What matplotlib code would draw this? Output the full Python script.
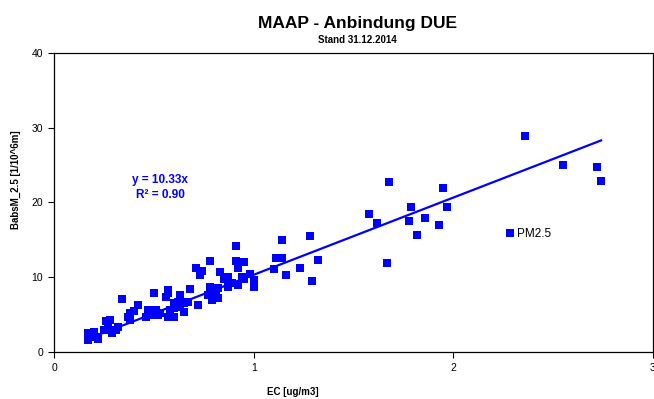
import matplotlib.pyplot as plt
import numpy as np

plt.rcParams["font.family"] = ["Liberation Sans", "DejaVu Sans"]

# ================= data =================
EC = [
    2.36, 2.55, 2.72, 2.74, 1.95, 1.97, 1.93, 1.86, 1.79, 1.78,
    1.82, 1.68, 1.58, 1.62, 1.67, 1.28, 1.32, 1.23, 1.29, 1.14,
    1.11, 1.14, 1.10, 1.16, 0.91, 0.91, 0.95, 0.92, 0.78, 0.74,
    0.71, 0.73, 0.83, 0.87, 0.85, 0.94, 0.98, 0.95, 1.00, 1.00,
    0.92, 0.89, 0.87, 0.78, 0.82, 0.81, 0.82, 0.79, 0.77, 0.68,
    0.72, 0.63, 0.63, 0.62, 0.65, 0.67, 0.60, 0.60, 0.58, 0.63,
    0.65, 0.57, 0.57, 0.56, 0.50, 0.42, 0.34, 0.51, 0.47, 0.49,
    0.53, 0.57, 0.60, 0.46, 0.52, 0.38, 0.40, 0.38, 0.37, 0.26,
    0.28, 0.27, 0.27, 0.31, 0.29, 0.32, 0.17, 0.20, 0.21, 0.17,
    0.22, 0.25,
]
BABS = [
    28.9, 25.0, 24.8, 22.9, 21.9, 19.4, 17.0, 17.9, 19.4, 17.5,
    15.7, 22.7, 18.5, 17.3, 11.9, 15.5, 12.3, 11.2, 9.5, 15.0,
    12.6, 12.6, 11.1, 10.3, 14.2, 12.2, 12.0, 11.2, 12.2, 10.8,
    11.2, 10.3, 10.7, 10.0, 9.8, 10.0, 10.4, 9.8, 9.6, 8.7,
    9.0, 9.2, 8.7, 8.7, 8.6, 7.9, 7.2, 7.0, 7.6, 8.4,
    6.3, 7.6, 7.2, 6.7, 6.6, 6.7, 6.6, 5.9, 5.6, 6.0,
    5.4, 8.3, 7.9, 7.4, 7.9, 6.3, 7.1, 5.6, 5.6, 5.0,
    5.2, 4.7, 4.7, 4.7, 5.0, 5.2, 5.5, 4.3, 4.7, 4.2,
    4.3, 3.9, 2.9, 2.9, 2.5, 3.3, 2.5, 2.7, 2.0, 1.6,
    1.7, 2.9,
]
SLOPE = 10.33
R2 = 0.90
SERIES_NAME = "PM2.5"
BLUE = "#0000FF"
# =============================================================

x = np.array(EC)
y = np.array(BABS)

fig = plt.figure(figsize=(6.54, 3.99), dpi=100)
ax = fig.add_axes([0.0826, 0.1178, 0.9159, 0.7494])

ax.plot(x, y, "s", color=BLUE, markersize=5.4, markeredgewidth=0,
        label=SERIES_NAME)

# trendline through origin
xl = np.array([x.min(), x.max()])
ax.plot(xl, SLOPE * xl, color=BLUE, linewidth=1.6)

ax.set_xlim(0, 3)
ax.set_ylim(0, 40)
ax.set_xticks([0, 1, 2, 3])
ax.set_yticks([0, 10, 20, 30, 40])
ax.tick_params(direction="out", length=4, width=0.8, labelsize=7.5, pad=4)
for s in ax.spines.values():
    s.set_linewidth(0.9)

ax.text(0.177, 0.55, f"y = {SLOPE:.2f}x\nR² = {R2:.2f}",
        transform=ax.transAxes, ha="center", va="center",
        color=BLUE, fontsize=8.5, fontweight="bold", linespacing=1.3)

ax.legend(loc="center left", bbox_to_anchor=(0.745, 0.395), frameon=False,
          handlelength=0.6, handletextpad=0.3, numpoints=1, fontsize=8.5,
          borderpad=0)

fig.text(0.547, 0.942, "MAAP - Anbindung DUE", ha="center", va="center",
         fontsize=12.5, fontweight="bold")
fig.text(0.547, 0.901, "Stand 31.12.2014", ha="center", va="center",
         fontsize=7, fontweight="bold")
fig.text(0.447, 0.018, "EC [ug/m3]", ha="center", va="center",
         fontsize=7, fontweight="bold")
fig.text(0.025, 0.55, "BabsM_2.5 [1/10^6m]", ha="center", va="center",
         rotation=90, fontsize=7, fontweight="bold")

fig.savefig("out.png", dpi=100)
